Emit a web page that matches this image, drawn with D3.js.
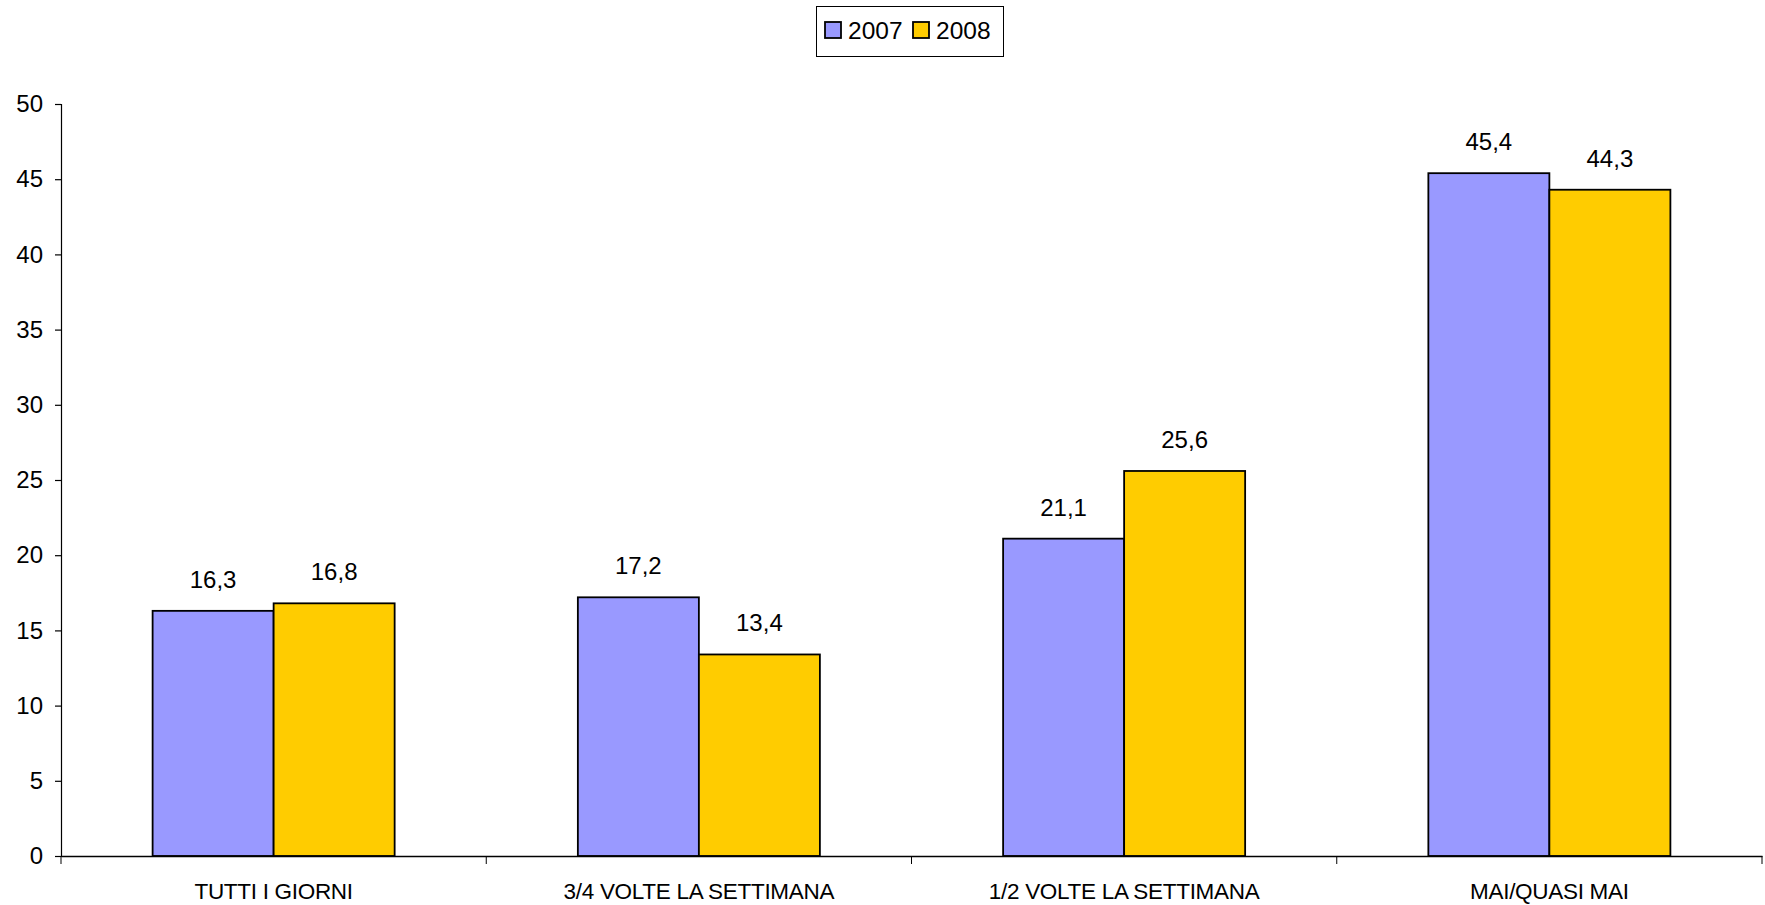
<!DOCTYPE html>
<html><head><meta charset="utf-8">
<script src="https://cdn.jsdelivr.net/npm/d3@7"></script>
<style>
html,body{margin:0;padding:0;background:#fff;}
text{font-family:"Liberation Sans",Arial,sans-serif;fill:#000;}
</style></head>
<body>
<svg id="chart" width="1765" height="905"></svg>
<script>
const categories = ["TUTTI I GIORNI", "3/4 VOLTE LA SETTIMANA", "1/2 VOLTE LA SETTIMANA", "MAI/QUASI MAI"];
const series = ["2007", "2008"];
const values2007 = [16.3, 17.2, 21.1, 45.4];
const values2008 = [16.8, 13.4, 25.6, 44.3];
const yTicks = [0, 5, 10, 15, 20, 25, 30, 35, 40, 45, 50];
const colors = ["#9999FF", "#FFCC00"];

(function () {
const seriesValues = [values2007, values2008];
const svg = d3.select("#chart");
const mLeft = 61, mRight = 1762, mTop = 104, mBottom = 856;

const x0 = d3.scaleBand().domain(categories).range([mLeft, mRight]).padding(0);
const x1 = d3.scaleBand().domain(series).range([0, x0.bandwidth()]).paddingInner(0).paddingOuter(0.757);
const y = d3.scaleLinear().domain([0, 50]).range([mBottom, mTop]);

// y axis
const yAxis = d3.axisLeft(y).tickValues(yTicks).tickSize(6).tickPadding(12).tickFormat(d3.format("d"));
const gy = svg.append("g").attr("transform", `translate(${mLeft},0)`).call(yAxis);
gy.selectAll("text").style("font-size", "24px").style("font-family", "Liberation Sans, Arial, sans-serif").attr("fill", "#000");
gy.selectAll("line,path").attr("stroke", "#000").attr("stroke-width", 1.2);

// bars
const groups = svg.append("g").selectAll("g").data(categories).join("g")
  .attr("transform", d => `translate(${x0(d)},0)`);
groups.selectAll("rect").data((c, i) => series.map((s, j) => ({s, v: seriesValues[j][i], j})))
  .join("rect")
  .attr("x", d => x1(d.s))
  .attr("y", d => y(d.v))
  .attr("width", x1.bandwidth())
  .attr("height", d => y(0) - y(d.v))
  .attr("fill", d => colors[d.j])
  .attr("stroke", "#000")
  .attr("stroke-width", 1.8);
groups.selectAll("text.val").data((c, i) => series.map((s, j) => ({s, v: seriesValues[j][i], j})))
  .join("text").attr("class", "val")
  .attr("x", d => x1(d.s) + x1.bandwidth() / 2)
  .attr("y", d => y(d.v) - 23)
  .attr("text-anchor", "middle")
  .style("font-size", "24px")
  .text(d => d3.format(".1f")(d.v).replace(".", ","));

// x axis
const xAxis = d3.axisBottom(x0).tickSize(0).tickFormat("");
const gx = svg.append("g").attr("transform", `translate(0,${mBottom})`).call(xAxis);
gx.select("path").attr("stroke", "#000").attr("stroke-width", 1.5);
const bounds = d3.range(categories.length + 1).map(i => mLeft + i * x0.step());
svg.append("g").selectAll("line").data(bounds).join("line")
  .attr("x1", d => d).attr("x2", d => d).attr("y1", mBottom).attr("y2", mBottom + 8)
  .attr("stroke", "#000").attr("stroke-width", 1);
svg.append("g").selectAll("text").data(categories).join("text")
  .attr("x", d => x0(d) + x0.bandwidth() / 2)
  .attr("y", 899)
  .attr("text-anchor", "middle")
  .style("font-size", "22.5px")
  .style("letter-spacing", "-0.3px")
  .text(d => d);

// legend
const lg = svg.append("g");
lg.append("rect").attr("x", 816.5).attr("y", 6.5).attr("width", 187).attr("height", 50)
  .attr("fill", "#fff").attr("stroke", "#000").attr("stroke-width", 1);
const lx = [825, 913];
series.forEach((s, j) => {
  lg.append("rect").attr("x", lx[j]).attr("y", 22).attr("width", 16).attr("height", 16)
    .attr("fill", colors[j]).attr("stroke", "#000").attr("stroke-width", 1.8);
  lg.append("text").attr("x", lx[j] + 23).attr("y", 38.5).style("font-size", "24.5px").text(s);
});
})();
</script>
</body></html>
